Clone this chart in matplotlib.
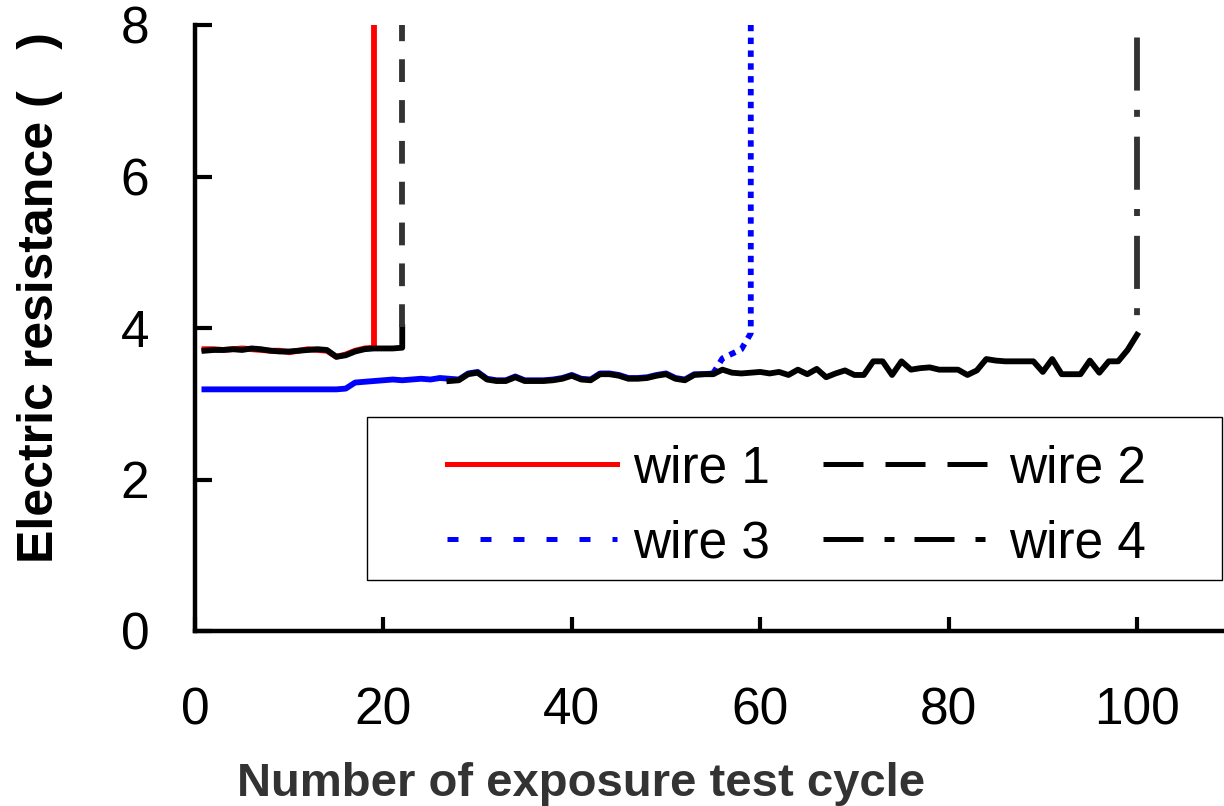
import matplotlib
matplotlib.use("Agg")
import matplotlib.pyplot as plt
from matplotlib.lines import Line2D
from matplotlib.patches import Rectangle

plt.rcParams["font.family"] = ["Liberation Sans", "DejaVu Sans"]

# wire 1: red, breaks after cycle 19
w1_x = [1, 2, 3, 4, 5, 6, 7, 8, 9, 10, 11, 12, 13, 14, 15, 16, 17, 18, 19]
w1_y = [3.72, 3.72, 3.71, 3.72, 3.73, 3.72, 3.71, 3.70, 3.70, 3.68, 3.70, 3.72,
        3.71, 3.70, 3.62, 3.65, 3.70, 3.73, 3.74]
w1_rise_x = [19, 19]
w1_rise_y = [3.74, 8.0]

# wire 2: breaks after cycle 22
w2_x = [1, 2, 3, 4, 5, 6, 7, 8, 9, 10, 11, 12, 13, 14, 15, 16, 17, 18, 19, 20,
        21, 22, 22]
w2_y = [3.70, 3.71, 3.71, 3.72, 3.71, 3.73, 3.72, 3.70, 3.69, 3.69, 3.70, 3.71,
        3.72, 3.71, 3.62, 3.64, 3.69, 3.72, 3.73, 3.73, 3.73, 3.74, 4.01]
w2_rise_x = [22, 22]
w2_rise_y = [4.01, 8.05]

# wire 3: blue, breaks around cycle 59
w3_x = [1, 2, 3, 4, 5, 6, 7, 8, 9, 10, 11, 12, 13, 14, 15, 16, 17, 18, 19, 20,
        21, 22, 23, 24, 25, 26, 27, 28, 29, 30, 31, 32, 33, 34, 35, 36, 37, 38,
        39, 40, 41, 42, 43, 44, 45, 46, 47, 48, 49, 50, 51, 52, 53, 54, 55]
w3_y = [3.19, 3.19, 3.19, 3.19, 3.19, 3.19, 3.19, 3.19, 3.19, 3.19, 3.19, 3.19,
        3.19, 3.19, 3.19, 3.20, 3.28, 3.29, 3.30, 3.31, 3.32, 3.31, 3.32, 3.33,
        3.32, 3.34, 3.33, 3.32, 3.40, 3.42, 3.33, 3.31, 3.31, 3.36, 3.31, 3.31,
        3.31, 3.32, 3.34, 3.38, 3.33, 3.32, 3.40, 3.40, 3.38, 3.34, 3.34, 3.35,
        3.38, 3.40, 3.34, 3.32, 3.39, 3.39, 3.40]
w3_rise_x = [55, 56, 58, 59, 59]
w3_rise_y = [3.40, 3.60, 3.72, 3.93, 8.0]

# wire 4: breaks at cycle 100
w4_x = [27, 28, 29, 30, 31, 32, 33, 34, 35, 36, 37, 38, 39, 40, 41, 42, 43, 44,
        45, 46, 47, 48, 49, 50, 51, 52, 53, 54, 55, 56, 57, 58, 59, 60, 61, 62,
        63, 64, 65, 66, 67, 68, 69, 70, 71, 72, 73, 74, 75, 76, 77, 78, 79, 80,
        81, 82, 83, 84, 85, 86, 87, 88, 89, 90, 91, 92, 93, 94, 95, 96, 97, 98,
        99, 100]
w4_y = [3.30, 3.31, 3.39, 3.41, 3.32, 3.30, 3.30, 3.35, 3.30, 3.30, 3.30, 3.31,
        3.33, 3.37, 3.32, 3.31, 3.39, 3.39, 3.37, 3.33, 3.33, 3.34, 3.37, 3.39,
        3.33, 3.31, 3.38, 3.39, 3.39, 3.45, 3.41, 3.40, 3.41, 3.42, 3.40, 3.42,
        3.38, 3.45, 3.39, 3.46, 3.35, 3.40, 3.44, 3.38, 3.38, 3.56, 3.56, 3.38,
        3.56, 3.45, 3.47, 3.48, 3.45, 3.45, 3.45, 3.38, 3.44, 3.59, 3.57, 3.56,
        3.56, 3.56, 3.56, 3.42, 3.59, 3.39, 3.39, 3.39, 3.57, 3.41, 3.56, 3.56,
        3.71, 3.91]
w4_rise_x = [100, 100]
w4_rise_y = [3.91, 7.85]

labels = ["wire 1", "wire 2", "wire 3", "wire 4"]
x_ticks = [0, 20, 40, 60, 80, 100]
y_ticks = [0, 2, 4, 6, 8]

fig = plt.figure(figsize=(12.24, 8.06), dpi=100)
ax = fig.add_axes([195 / 1224, 1 - 631 / 806, 1 - 195 / 1224, (631 - 25) / 806])

lw = 4.2
ax.plot(w1_x, w1_y, color="#ff0000", lw=lw, solid_joinstyle="round")
ax.plot(w1_rise_x, w1_rise_y, color="#ff0000", lw=lw)
ax.plot(w2_x, w2_y, color="black", lw=lw, solid_joinstyle="round")
ax.plot(w2_rise_x, w2_rise_y, color="#333333", lw=lw, ls=(0, (3.9, 3.1)))
ax.plot(w3_x, w3_y, color="#0000ff", lw=lw, solid_joinstyle="round")
ax.plot(w3_rise_x, w3_rise_y, color="#0000ff", lw=lw, ls=(0, (1.1, 1.1)))
ax.plot(w4_x, w4_y, color="black", lw=lw, solid_joinstyle="round")
ax.plot(w4_rise_x, w4_rise_y, color="#333333", lw=lw,
        ls=(9.1, (9.1, 3.4, 1.2, 3.3)))

ax.set_xlim(0, (1224 - 195) / 9.42)
ax.set_ylim(0, 8)
ax.set_xticks(x_ticks)
ax.set_yticks(y_ticks)
ax.spines["top"].set_visible(False)
ax.spines["right"].set_visible(False)
for side in ["left", "bottom"]:
    ax.spines[side].set_linewidth(3.2)
ax.tick_params(axis="both", direction="in", width=3, labelsize=37)
ax.tick_params(axis="x", length=10, pad=40)
ax.tick_params(axis="y", length=12, pad=33)

fig.text(581 / 1224, 1 - 796 / 806, "Number of exposure test cycle",
         fontsize=34, fontweight="bold", color="#333333",
         ha="center", va="baseline")
fig.text(40 / 1224, 1 - 298 / 806, "Electric resistance (   )",
         fontsize=36, fontweight="bold", rotation=90,
         ha="center", va="center")

# ncol=2 fills column by column, so order as wire 1, wire 3, wire 2, wire 4
handles = [
    Line2D([], [], color="#ff0000", lw=3.6),
    Line2D([], [], color="black", lw=3.6, ls=(0, (8.0, 4.4))),
    Line2D([], [], color="#0000ff", lw=3.6, ls=(0, (2.2, 4.4))),
    Line2D([], [], color="black", lw=3.6, ls=(0, (8.0, 4.2, 2.0, 4.0))),
]
order = [0, 2, 1, 3]
ax.legend([handles[i] for i in order], [labels[i] for i in order], ncol=2,
          frameon=False, loc="center", bbox_to_anchor=(0.5846, 0.206),
          fontsize=37, borderpad=0, handlelength=3.3, handletextpad=0.31,
          columnspacing=1.05, labelspacing=0.5)
ax.add_patch(Rectangle((0.167, 0.084), 0.831, 0.269, transform=ax.transAxes,
                       fill=False, lw=1.0, ec="black", zorder=5))

fig.savefig("out.png", dpi=100)
plt.close(fig)
